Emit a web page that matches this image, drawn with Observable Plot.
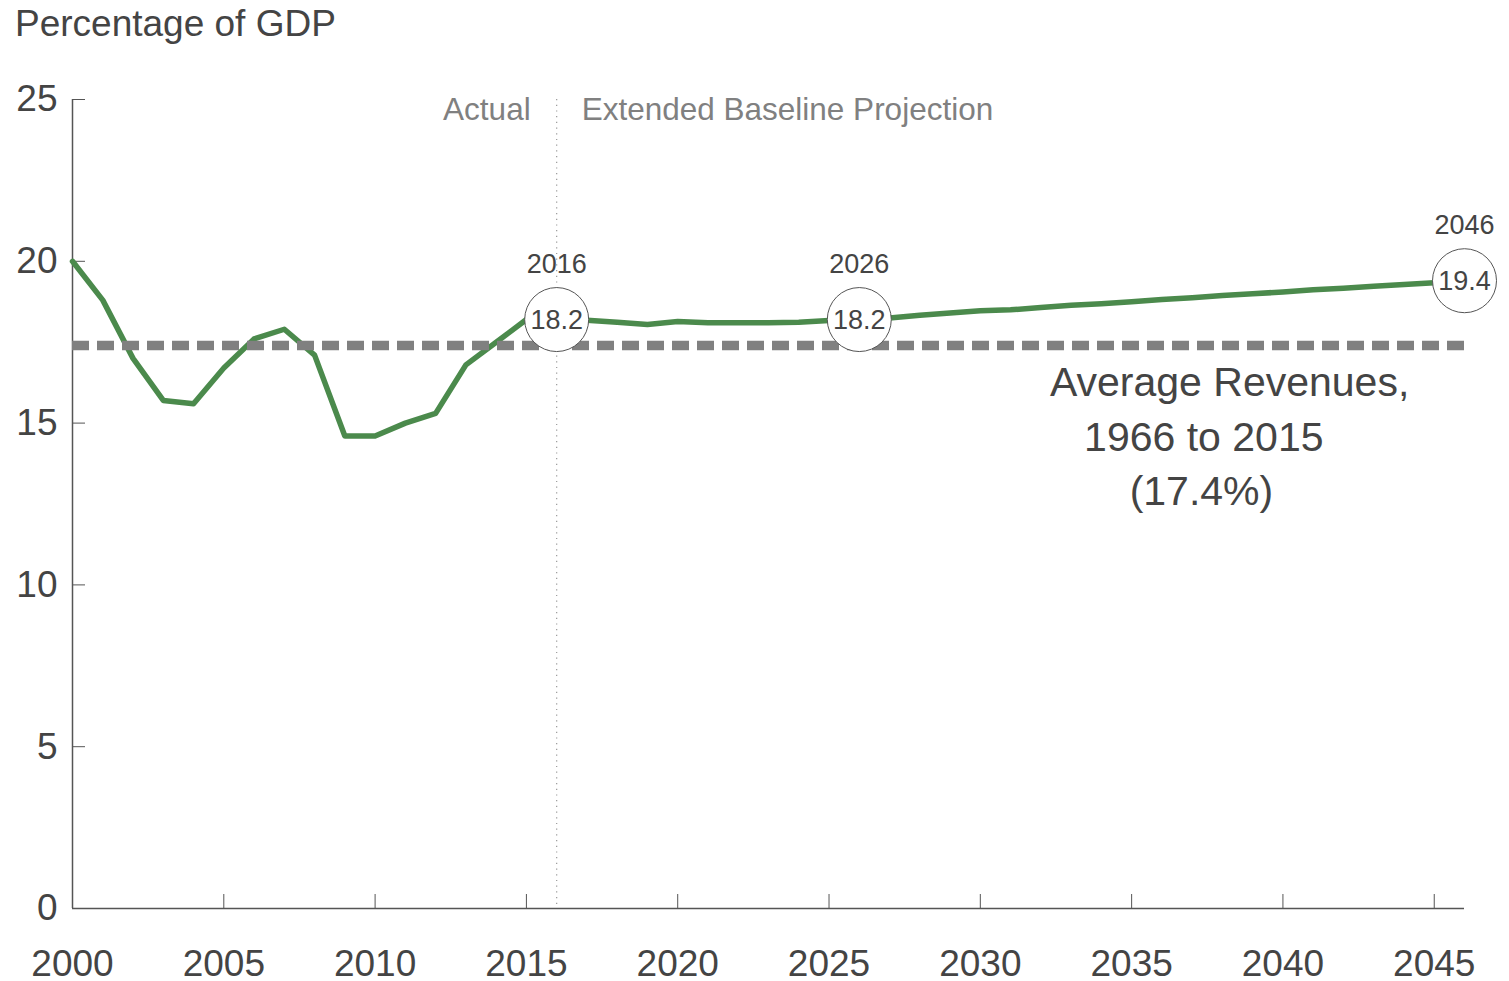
<!DOCTYPE html>
<html>
<head>
<meta charset="utf-8">
<script src="https://cdn.jsdelivr.net/npm/d3@7"></script>
<script src="https://cdn.jsdelivr.net/npm/@observablehq/plot@0.6"></script>
<style>
  html, body { margin: 0; padding: 0; background: #fff; }
  #wrap { width: 1509px; font-family: "Liberation Sans", Arial, sans-serif; }
  #title { height: 60px; box-sizing: border-box; padding: 3px 0 0 15px; font-size: 37px; color: #444; line-height: 1.15; }
</style>
</head>
<body>
<div id="wrap">
  <div id="title">Percentage of GDP</div>
  <div id="chart"></div>
</div>
<script>
// Federal revenues as a share of GDP: actual through 2016, then the extended baseline projection
const years = d3.range(2000, 2047);
const revenue = [
  20.0, 18.8, 17.0, 15.7, 15.6, 16.7, 17.6, 17.9, 17.1, 14.6,
  14.6, 15.0, 15.3, 16.8, 17.5, 18.2, 18.2,
  18.18, 18.12, 18.05, 18.14, 18.1, 18.1, 18.1, 18.12, 18.17, 18.2,
  18.25, 18.33, 18.4, 18.47, 18.5, 18.57, 18.64, 18.69, 18.75, 18.82,
  18.87, 18.94, 19.0, 19.05, 19.12, 19.17, 19.23, 19.28, 19.34, 19.4
];
const averageRevenue = 17.4;           // 1966 to 2015 average
const projectionStart = 2016;
const highlightYears = [2016, 2026, 2046];
const xTicks = [2000, 2005, 2010, 2015, 2020, 2025, 2030, 2035, 2040, 2045];
const yTicks = [0, 5, 10, 15, 20, 25];
const periodLabels = ["Actual", "Extended Baseline Projection"];
const averageNote = ["Average Revenues,", "\u00a0\u00a0\u00a01966 to 2015", "\u00a0\u00a0\u00a0\u00a0\u00a0\u00a0\u00a0(17.4%)"];
const averageNoteYear = 2032.3;

const series = years.map((year, i) => ({year, value: revenue[i]}));
const highlights = highlightYears.map(year => ({year, value: revenue[years.indexOf(year)]}));

const font = "'Liberation Sans', Arial, sans-serif";
const textColor = "#444";
const green = "#4b8a4c";

const chart = Plot.plot({
  width: 1509,
  height: 921,
  marginTop: 39,
  marginBottom: 73,
  marginLeft: 72,
  marginRight: 45,
  style: {fontFamily: font, background: "#fff", overflow: "visible"},
  x: {domain: [2000, 2046]},
  y: {domain: [0, 25]},
  marks: [
    // axes: ticks point inward from the axis lines
    Plot.axisX({ticks: xTicks, tickFormat: d => String(d), tickSize: -14, tickPadding: 55,
      fontSize: 37, color: textColor, stroke: "#555", label: null}),
    Plot.axisY({ticks: yTicks, tickSize: -13, tickPadding: 28, fontSize: 37,
      color: textColor, stroke: "#555", label: null}),
    Plot.ruleX([2000], {stroke: "#555", strokeWidth: 1.5}),
    Plot.ruleY([0], {stroke: "#555", strokeWidth: 1.5}),

    // actual / projection divider
    Plot.ruleX([projectionStart], {stroke: "#999", strokeWidth: 1.2, strokeDasharray: "1.2,4.5"}),
    Plot.text([periodLabels[0]], {x: projectionStart, y: 25, text: d => d, textAnchor: "end",
      dx: -26, dy: 10, fontSize: 31.5, fill: "#808080"}),
    Plot.text([periodLabels[1]], {x: projectionStart, y: 25, text: d => d, textAnchor: "start",
      dx: 25, dy: 10, fontSize: 31.5, fill: "#808080"}),

    // revenue line
    Plot.line(series, {x: "year", y: "value", stroke: green, strokeWidth: 5.5, strokeLinejoin: "round"}),

    // historical average
    Plot.ruleY([averageRevenue], {stroke: "#808080", strokeWidth: 9.5, strokeDasharray: "17,8"}),
    Plot.text([averageNote.join("\n")], {x: averageNoteYear, y: averageRevenue, text: d => d,
      textAnchor: "start", lineAnchor: "top", lineHeight: 1.33, dy: 12, fontSize: 41, fill: textColor}),

    // highlighted years
    Plot.dot(highlights, {x: "year", y: "value", r: 32, fill: "#fff", stroke: "#555", strokeWidth: 1}),
    Plot.text(highlights, {x: "year", y: "value", text: d => d.value.toFixed(1), fontSize: 27, fill: textColor, dy: 1}),
    Plot.text(highlights, {x: "year", y: "value", text: d => String(d.year), fontSize: 27, fill: textColor, dy: -55})
  ]
});

document.getElementById("chart").appendChild(chart);
</script>
</body>
</html>
